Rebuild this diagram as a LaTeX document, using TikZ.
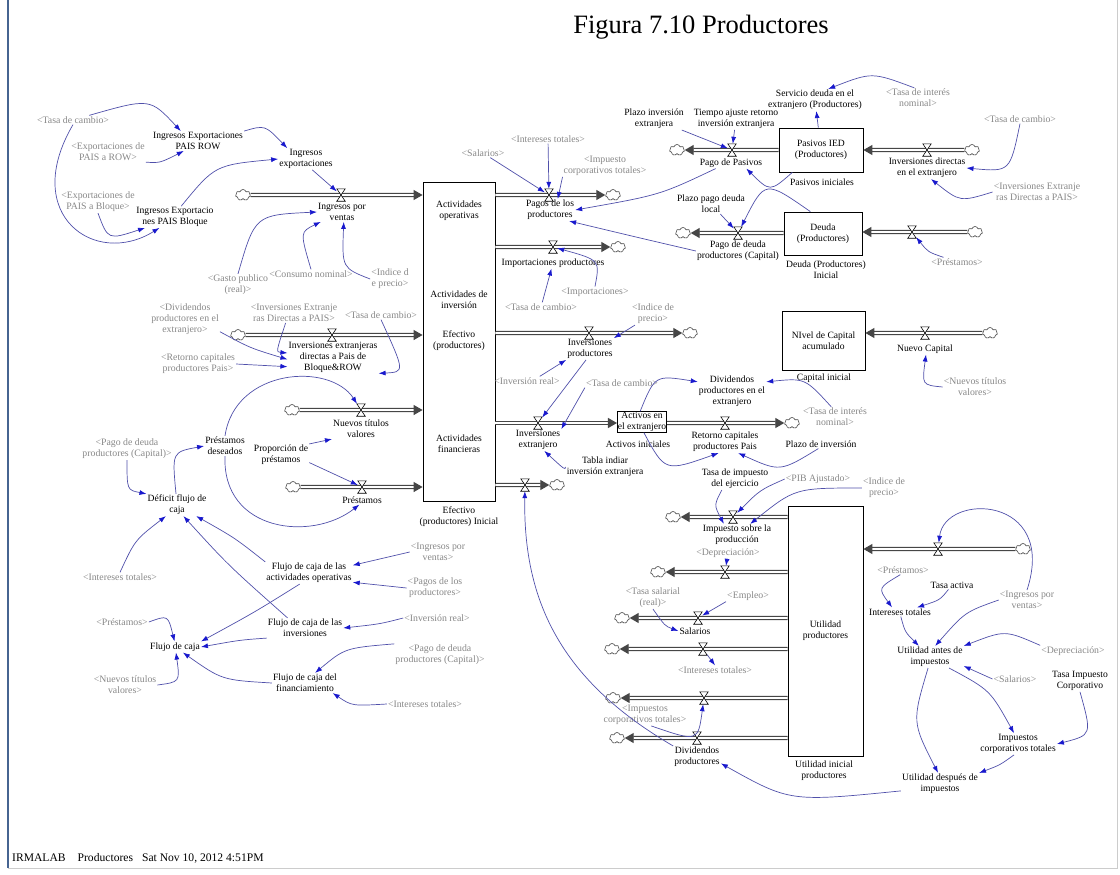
\documentclass[tikz,border=0pt]{standalone}
\usepackage{fontspec}
\setmainfont{Liberation Serif}
\usetikzlibrary{arrows.meta, calc, shapes.symbols}

\definecolor{infoblue}{RGB}{80,80,170}
\definecolor{tipblue}{RGB}{25,25,205}
\definecolor{shadowgray}{RGB}{135,135,135}
\definecolor{framebar}{RGB}{70,100,145}
\definecolor{pipegray}{RGB}{70,70,70}

\tikzset{
  varname/.style={align=center, inner sep=1pt, font=\fontsize{9.6}{11}\selectfont},
  shadowvar/.style={varname, text=shadowgray, font=\fontsize{9.8}{11}\selectfont},
  stockbox/.style={draw, line width=0.8pt, fill=white, align=center, inner sep=1pt, font=\fontsize{9.6}{11}\selectfont},
  valvenode/.style={inner sep=0pt, minimum width=8pt, minimum height=12pt},
  valveline/.style={draw=black, fill=white, line width=0.6pt},
  cloudnode/.style={cloud, cloud puffs=7, aspect=1.3, minimum width=15pt, minimum height=11pt, inner sep=0pt, draw=pipegray, fill=white, line width=0.6pt},
  pipeline/.style={draw=pipegray, double=white, double distance=1.8pt, line width=1.2pt, -{Triangle[length=9pt,width=10pt]}},
  infoarrow/.style={draw=infoblue, line width=0.7pt, -{Latex[length=7pt,width=5pt,color=tipblue]}}
}

\begin{document}
\begin{tikzpicture}[x=1pt, y=-1pt]
    \useasboundingbox (0,0) rectangle (1120,875);

    % Frame and title
    \draw[framebar, line width=2pt] (8,0) -- (8,868);
    \draw[gray!40, line width=0.8pt] (8,868) -- (1117,868) -- (1117,0);
    \node[font=\fontsize{26.5}{30}\selectfont] (title) at (701,27) {Figura 7.10 Productores};
    \node[anchor=west, inner sep=0pt, font=\fontsize{11.6}{13}\selectfont] (footer) at (12,858) {IRMALAB\hspace{12pt}Productores\hspace{9pt}Sat Nov 10, 2012 4:51PM};

    % Export revenue
    \node[shadowvar] (gTasaA) at (73,120) {<Tasa de cambio>};
    \node[varname] (ingRow) at (198,141) {Ingresos Exportaciones\\PAIS ROW};
    \node[shadowvar] (gExpRow) at (108,152) {<Exportaciones de\\PAIS a ROW>};
    \node[shadowvar] (gExpBlo) at (98,202) {<Exportaciones de\\PAIS a Bloque>};
    \node[varname] (ingBlo) at (175,217) {Ingresos Exportacio\\nes PAIS Bloque};
    \node[varname] (ingExp) at (306,159) {Ingresos\\exportaciones};
    \node[varname] (ingVen) at (342,212) {Ingresos por\\ventas};
    \node[shadowvar] (gGasto) at (238,285) {<Gasto publico\\(real)>};
    \node[shadowvar] (gConsumo) at (311,274) {<Consumo nominal>};
    \node[shadowvar] (gIndiceA) at (390,279) {<Indice d\\e precio>};

    % Cash stock
    \node[stockbox, minimum width=72pt, minimum height=319pt] (cash) at (459,341.5) {};
    \node[varname] (cashOp) at (459,211) {Actividades\\operativas};
    \node[varname] (cashInv) at (459,300) {Actividades de\\inversión};
    \node[varname] (cashName) at (459,341) {Efectivo\\(productores)};
    \node[varname] (cashFin) at (459,444) {Actividades\\financieras};
    \node[varname] (cashIni) at (459,517) {Efectivo\\(productores) Inicial};

    % Inflows to cash
    \node[cloudnode] (cIngVen) at (243,195) {};
    \node[valvenode] (vIngVen) at (341,195) {};
    \node[cloudnode] (cInvExt) at (238,335) {};
    \node[valvenode] (vInvExt) at (332,335) {};
    \node[varname] (invExt) at (333,357) {Inversiones extranjeras\\directas a Pais de\\Bloque\&ROW};
    \node[cloudnode] (cNuevos) at (292,410) {};
    \node[valvenode] (vNuevos) at (361,410) {};
    \node[varname] (nuevos) at (361,429) {Nuevos títulos\\valores};
    \node[cloudnode] (cPrest) at (293,487) {};
    \node[valvenode] (vPrest) at (362,487) {};
    \node[varname] (prest) at (362,500) {Préstamos};

    % Outflows from cash
    \node[valvenode] (vPagos) at (549,195) {};
    \node[cloudnode] (cPagos) at (613,195) {};
    \node[varname] (pagos) at (550,210) {Pagos de los\\productores};
    \node[valvenode] (vImport) at (553,247) {};
    \node[cloudnode] (cImport) at (618,247) {};
    \node[varname] (import) at (553,263) {Importaciones productores};
    \node[valvenode] (vInvProd) at (589,333) {};
    \node[cloudnode] (cInvProd) at (690,333) {};
    \node[varname] (invProd) at (590,349) {Inversiones\\productores};
    \node[valvenode] (vInvExtr) at (538,423) {};
    \node[varname] (invExtr) at (538,440) {Inversiones\\extranjero};
    \node[valvenode] (vDivP) at (525,485) {};
    \node[cloudnode] (cDivP) at (557,485) {};
    \node[shadowvar] (gSal) at (483,153) {<Salarios>};
    \node[shadowvar] (gIntTot) at (548,139) {<Intereses totales>};
    \node[shadowvar] (gImpCorp) at (605,166) {<Impuesto\\corporativos totales>};
    \node[shadowvar] (gTasaC) at (541,307) {<Tasa de cambio>};
    \node[shadowvar] (gImport) at (595,292) {<Importaciones>};

    % Foreign liabilities
    \node[varname] (plazoInv) at (654,119) {Plazo inversión\\extranjera};
    \node[varname] (tiempoAj) at (736,119) {Tiempo ajuste retorno\\inversión extranjera};
    \node[stockbox, minimum width=84pt, minimum height=44pt] (pasivos) at (821,150) {Pasivos IED\\(Productores)};
    \node[varname] (pasIni) at (822,182) {Pasivos iniciales};
    \node[varname] (servicio) at (815,100) {Servicio deuda en el\\extranjero (Productores)};
    \node[shadowvar] (gTasaInt1) at (918,98) {<Tasa de interés\\nominal>};
    \node[cloudnode] (cPagoPas) at (677,150) {};
    \node[valvenode] (vPagoPas) at (732,150) {};
    \node[varname] (pagoPas) at (731,163) {Pago de Pasivos};
    \node[cloudnode] (cInvDir) at (972,150) {};
    \node[valvenode] (vInvDir) at (927,150) {};
    \node[varname] (invDir) at (927,168) {Inversiones directas\\en el extranjero};
    \node[shadowvar] (gTasaB) at (1020,119) {<Tasa de cambio>};
    \node[shadowvar] (gInvExtB) at (1037,192) {<Inversiones Extranje\\ras Directas a PAIS>};

    % Local debt
    \node[varname] (plazoDeu) at (711,204) {Plazo pago deuda\\local};
    \node[stockbox, minimum width=78pt, minimum height=43pt] (deuda) at (823,233.5) {Deuda\\(Productores)};
    \node[varname] (deuIni) at (826,270) {Deuda (Productores)\\Inicial};
    \node[cloudnode] (cPagoDeu) at (683,233) {};
    \node[valvenode] (vPagoDeu) at (738,233) {};
    \node[varname] (pagoDeu) at (738,251) {Pago de deuda\\productores (Capital)};
    \node[cloudnode] (cPrestB) at (975,232) {};
    \node[valvenode] (vPrestB) at (912,232) {};
    \node[shadowvar] (gPrestB) at (957,262) {<Préstamos>};

    % Accumulated capital
    \node[stockbox, minimum width=83pt, minimum height=59pt] (capital) at (823.5,340.5) {NIvel de Capital\\acumulado};
    \node[varname] (capIni) at (824,378) {Capital inicial};
    \node[cloudnode] (cNuevoCap) at (990,333) {};
    \node[valvenode] (vNuevoCap) at (925,333) {};
    \node[varname] (nuevoCap) at (925,349) {Nuevo Capital};
    \node[shadowvar] (gNuevosB) at (975,387) {<Nuevos títulos\\valores>};

    % Foreign assets
    \node[shadowvar] (gIndiceB) at (653,314) {<Indice de\\precio>};
    \node[shadowvar] (gInvReal) at (527,381) {<Inversión real>};
    \node[shadowvar] (gTasaD) at (622,383) {<Tasa de cambio>};
    \node[varname] (tabla) at (605,467) {Tabla indiar\\inversión extranjera};
    \node[stockbox, inner sep=0.5pt] (actBox) at (642,422) {Activos en\\el extranjero};
    \node[varname] (actIni) at (638,444) {Activos iniciales};
    \node[valvenode] (vRet) at (725,423) {};
    \node[cloudnode] (cRet) at (792,423) {};
    \node[varname] (retorno) at (725,442) {Retorno capitales\\productores Pais};
    \node[varname] (divExt) at (732,391) {Dividendos\\productores en el\\extranjero};
    \node[shadowvar] (gTasaInt2) at (835,417) {<Tasa de interés\\nominal>};
    \node[varname] (plazoRet) at (821,444) {Plazo de inversión};

    % Profit stock and its outflows
    \node[stockbox, minimum width=75pt, minimum height=250pt] (util) at (825.5,631) {Utilidad\\productores};
    \node[varname] (utilIni) at (824,771) {Utilidad inicial\\productores};
    \node[varname] (tasaImp) at (735,479) {Tasa de impuesto\\del ejercicio};
    \node[shadowvar] (gPib) at (818,479) {<PIB Ajustado>};
    \node[shadowvar] (gIndiceC) at (884,488) {<Indice de\\precio>};
    \node[cloudnode] (cImpProd) at (673,517) {};
    \node[valvenode] (vImpProd) at (733,517) {};
    \node[varname] (impProd) at (737,535) {Impuesto sobre la\\producción};
    \node[shadowvar] (gDep) at (728,553) {<Depreciación>};
    \node[cloudnode] (cDep) at (658,572) {};
    \node[valvenode] (vDep) at (725,572) {};
    \node[cloudnode] (cSal) at (622,618) {};
    \node[valvenode] (vSal) at (698,618) {};
    \node[varname] (sal) at (695,631) {Salarios};
    \node[shadowvar] (gTasaSal) at (653,598) {<Tasa salarial\\(real)>};
    \node[shadowvar] (gEmpleo) at (748,596) {<Empleo>};
    \node[cloudnode] (cIntT) at (612,649) {};
    \node[valvenode] (vIntT) at (703,649) {};
    \node[shadowvar] (gIntTotB) at (715,670) {<Intereses totales>};
    \node[cloudnode] (cImpC) at (613,698) {};
    \node[valvenode] (vImpC) at (704,698) {};
    \node[shadowvar] (gImpCorpB) at (645,715) {<Impuestos\\corporativos totales>};
    \node[cloudnode] (cDivPB) at (617,738) {};
    \node[valvenode] (vDivPB) at (697,738) {};
    \node[varname] (divP) at (697,757) {Dividendos\\productores};

    % Profit before and after taxes
    \node[cloudnode] (cIngB) at (1023,549) {};
    \node[valvenode] (vIngB) at (938,549) {};
    \node[shadowvar] (gPrestC) at (903,570) {<Préstamos>};
    \node[varname] (tasaAct) at (952,585) {Tasa activa};
    \node[shadowvar] (gIngVenB) at (1027,600) {<Ingresos por\\ventas>};
    \node[varname] (intTot) at (900,612) {Intereses totales};
    \node[varname] (utilAntes) at (930,657) {Utilidad antes de\\impuestos};
    \node[shadowvar] (gDepB) at (1073,651) {<Depreciación>};
    \node[shadowvar] (gSalB) at (1015,679) {<Salarios>};
    \node[varname] (tasaImpCorp) at (1080,681) {Tasa Impuesto\\Corporativo};
    \node[varname] (impCorpTot) at (1018,744) {Impuestos\\corporativos totales};
    \node[varname] (utilDesp) at (940,784) {Utilidad después de\\impuestos};

    % Financing side
    \node[shadowvar] (gDivExtB) at (185,319) {<Dividendos\\productores en el\\extranjero>};
    \node[shadowvar] (gInvExtC) at (294,313) {<Inversiones Extranje\\ras Directas a PAIS>};
    \node[shadowvar] (gTasaE) at (381,315) {<Tasa de cambio>};
    \node[shadowvar] (gRetCap) at (198,364) {<Retorno capitales\\productores Pais>};
    \node[varname] (prestDes) at (225,446) {Préstamos\\deseados};
    \node[varname] (propPrest) at (281,455) {Proporción de\\préstamos};
    \node[varname] (deficit) at (177,505) {Déficit flujo de\\caja};
    \node[shadowvar] (gPagoDeuB) at (127,449) {<Pago de deuda\\productores (Capital)>};
    \node[shadowvar] (gIntTotC) at (120,577) {<Intereses totales>};

    % Cash flow statement
    \node[varname] (flujoOp) at (309,573) {Flujo de caja de las\\actividades operativas};
    \node[shadowvar] (gIngVenC) at (438,552) {<Ingresos por\\ventas>};
    \node[shadowvar] (gPagosB) at (435,588) {<Pagos de los\\productores>};
    \node[varname] (flujoInv) at (305,628) {Flujo de caja de las\\inversiones};
    \node[shadowvar] (gInvRealB) at (437,618) {<Inversión real>};
    \node[varname] (flujoFin) at (305,683) {Flujo de caja del\\financiamiento};
    \node[shadowvar] (gPagoDeuC) at (440,655) {<Pago de deuda\\productores (Capital)>};
    \node[shadowvar] (gIntTotD) at (425,704) {<Intereses totales>};
    \node[varname] (flujo) at (175,647) {Flujo de caja};
    \node[shadowvar] (gPrestD) at (122,622) {<Préstamos>};
    \node[shadowvar] (gNuevosC) at (125,685) {<Nuevos títulos\\valores>};

    % Pipes
    \draw[pipeline] (cIngVen) -- (cIngVen -| cash.west);
    \draw[pipeline] (cInvExt) -- (cInvExt -| cash.west);
    \draw[pipeline] (cNuevos) -- (cNuevos -| cash.west);
    \draw[pipeline] (cPrest) -- (cPrest -| cash.west);
    \draw[pipeline] (cash.east |- vPagos) -- (cPagos);
    \draw[pipeline] (cash.east |- vImport) -- (cImport);
    \draw[pipeline] (cash.east |- vInvProd) -- (cInvProd);
    \draw[pipeline] (cash.east |- vInvExtr) -- (actBox.west |- vInvExtr);
    \draw[pipeline] (cash.east |- vDivP) -- (cDivP);
    \draw[pipeline] (pasivos.west |- vPagoPas) -- (cPagoPas);
    \draw[pipeline] (cInvDir) -- (cInvDir -| pasivos.east);
    \draw[pipeline] (deuda.west |- vPagoDeu) -- (cPagoDeu);
    \draw[pipeline] (cPrestB) -- (cPrestB -| deuda.east);
    \draw[pipeline] (cNuevoCap) -- (cNuevoCap -| capital.east);
    \draw[pipeline] (actBox.east |- vRet) -- (cRet);
    \draw[pipeline] (util.west |- vImpProd) -- (cImpProd);
    \draw[pipeline] (util.west |- vDep) -- (cDep);
    \draw[pipeline] (util.west |- vSal) -- (cSal);
    \draw[pipeline] (util.west |- vIntT) -- (cIntT);
    \draw[pipeline] (util.west |- vImpC) -- (cImpC);
    \draw[pipeline] (util.west |- vDivPB) -- (cDivPB);
    \draw[pipeline] (cIngB) -- (cIngB -| util.east);

    % Valves
    \foreach \v in {vIngVen, vInvExt, vNuevos, vPrest, vPagos, vImport, vInvProd, vInvExtr, vDivP, vPagoPas, vInvDir,
                    vPagoDeu, vPrestB, vNuevoCap, vRet, vImpProd, vDep, vSal, vIntT, vImpC, vDivPB, vIngB}
        \draw[valveline] (\v.north west) -- (\v.north east) -- (\v.south west) -- (\v.south east) -- cycle;

    % Export revenue links
    \draw[infoarrow] (gTasaA) .. controls (150,98) .. (ingRow.150);
    \draw[infoarrow] (gTasaA.south) .. controls (20,215) and (95,268) .. (ingBlo.215);
    \draw[infoarrow] (gExpRow.south east) .. controls (160,163) .. (ingRow.215);
    \draw[infoarrow] (gExpBlo.south) .. controls (108,240) .. (ingBlo.200);
    \draw[infoarrow] (ingRow.north east) .. controls (265,125) .. (ingExp.150);
    \draw[infoarrow] (ingBlo.60) .. controls (215,165) .. (ingExp.west);
    \draw[infoarrow] (ingExp.-60) -- (vIngVen);
    \draw[infoarrow] (gGasto.north) .. controls (255,215) .. (ingVen.west);
    \draw[infoarrow] (gConsumo.north) .. controls (300,232) .. (ingVen.205);
    \draw[infoarrow] (gIndiceA.west) .. controls (342,268) .. (ingVen.-80);

    % Payments links
    \draw[infoarrow] (gSal) -- (vPagos);
    \draw[infoarrow] (gIntTot) -- (vPagos);
    \draw[infoarrow] (gImpCorp.south west) -- (pagos.55);
    \draw[infoarrow] (pagoPas.200) .. controls (660,195) .. (pagos.east);
    \draw[infoarrow] (pagoDeu.west) .. controls (640,238) .. (pagos.-30);
    \draw[infoarrow] (gTasaC) -- (import);
    \draw[infoarrow] (gImport.north) .. controls (600,260) .. (vImport);

    % Liabilities and debt links
    \draw[infoarrow] (gTasaInt1.110) .. controls (872,72) .. (servicio.40);
    \draw[infoarrow] (pasivos) -- (servicio);
    \draw[infoarrow] (plazoInv) -- (vPagoPas);
    \draw[infoarrow] (tiempoAj) -- (vPagoPas);
    \draw[infoarrow] (pasivos.218) .. controls (770,192) .. (pagoPas.-20);
    \draw[infoarrow] (gTasaB.south) .. controls (1010,172) .. (invDir.east);
    \draw[infoarrow] (gInvExtB.west) .. controls (960,202) .. (invDir.-70);
    \draw[infoarrow] (plazoDeu) -- (vPagoDeu);
    \draw[infoarrow] (deuda.120) .. controls (765,180) .. (vPagoDeu);
    \draw[infoarrow] (gPrestB) .. controls (928,252) .. (vPrestB);
    \draw[infoarrow] (gNuevosB.west) .. controls (922,385) .. (nuevoCap.-80);

    % Investment links
    \draw[infoarrow] (gIndiceB) -- (invProd.north east);
    \draw[infoarrow] (gInvReal.20) -- (invProd.south west);
    \draw[infoarrow] (invProd.250) -- (vInvExtr);
    \draw[infoarrow] (gTasaD.south west) -- (invExtr.north east);
    \draw[infoarrow] (tabla.west) .. controls (565,470) .. (invExtr.-60);
    \draw[infoarrow] (actBox.100) .. controls (655,375) .. (divExt.165);
    \draw[infoarrow] (actBox.-80) .. controls (665,472) .. (retorno.240);
    \draw[infoarrow] (gTasaInt2.110) .. controls (805,378) .. (divExt.15);
    \draw[infoarrow] (plazoRet.-120) .. controls (780,472) .. (retorno.-40);

    % Profit outflow links
    \draw[infoarrow] (tasaImp.220) .. controls (714,505) .. (impProd.140);
    \draw[infoarrow] (gPib.west) .. controls (760,490) .. (vImpProd);
    \draw[infoarrow] (gIndiceC.west) .. controls (795,488) .. (impProd.40);
    \draw[infoarrow] (gDep) -- (vDep);
    \draw[infoarrow] (gTasaSal.south) .. controls (665,626) .. (sal.west);
    \draw[infoarrow] (gEmpleo.south west) -- (vSal);
    \draw[infoarrow] (vIntT) -- (gIntTotB.north);
    \draw[infoarrow] (gImpCorpB.-60) .. controls (698,742) .. (vImpC);
    \draw[infoarrow] (divP.north west) .. controls (560,680) and (523,600) .. (vDivP);
    \draw[infoarrow] (utilDesp.190) .. controls (790,802) .. (divP.-15);

    % Profit links
    \draw[infoarrow] (gIngVenB.north) .. controls (1058,495) and (945,492) .. (vIngB);
    \draw[infoarrow] (gIngVenB.west) .. controls (965,612) .. (utilAntes.65);
    \draw[infoarrow] (gPrestC.-120) .. controls (878,588) .. (intTot.150);
    \draw[infoarrow] (tasaAct) .. controls (940,600) .. (intTot.15);
    \draw[infoarrow] (intTot.-80) .. controls (905,632) .. (utilAntes.135);
    \draw[infoarrow] (gDepB.north west) .. controls (1005,630) .. (utilAntes.north east);
    \draw[infoarrow] (gSalB.west) -- (utilAntes.-15);
    \draw[infoarrow] (utilAntes.-30) .. controls (990,690) .. (impCorpTot.110);
    \draw[infoarrow] (tasaImpCorp.south) .. controls (1092,735) .. (impCorpTot.east);
    \draw[infoarrow] (impCorpTot.-110) .. controls (1000,765) .. (utilDesp.north east);
    \draw[infoarrow] (utilAntes.-100) .. controls (912,722) .. (utilDesp.100);

    % Financing links
    \draw[infoarrow] (gDivExtB.-20) .. controls (250,348) .. (invExt.183);
    \draw[infoarrow] (gInvExtC.230) .. controls (276,352) .. (invExt.175);
    \draw[infoarrow] (gRetCap.east) -- (invExt.192);
    \draw[infoarrow] (gTasaE.south) .. controls (405,372) .. (invExt.south east);
    \draw[infoarrow] (prestDes.north) .. controls (235,368) and (330,362) .. (vNuevos);
    \draw[infoarrow] (prestDes.south) .. controls (222,532) and (312,542) .. (prest.-120);
    \draw[infoarrow] (propPrest.north east) -- (nuevos.south west);
    \draw[infoarrow] (propPrest.-15) -- (vPrest);
    \draw[infoarrow] (gPagoDeuB.south) .. controls (127,490) .. (deficit.north west);
    \draw[infoarrow] (deficit.95) .. controls (172,452) .. (prestDes.west);
    \draw[infoarrow] (gIntTotC.north) .. controls (135,540) .. (deficit.-135);
    \draw[infoarrow] (flujoOp.north west) .. controls (235,538) .. (deficit.-30);
    \draw[infoarrow] (flujoInv.150) .. controls (228,565) .. (deficit.-60);

    % Cash flow links
    \draw[infoarrow] (gIngVenC.west) -- (flujoOp.10);
    \draw[infoarrow] (gPagosB.west) -- (flujoOp.-12);
    \draw[infoarrow] (flujoOp.-130) .. controls (255,612) .. (flujo.north east);
    \draw[infoarrow] (gInvRealB.west) .. controls (380,624) .. (flujoInv.east);
    \draw[infoarrow] (gPagoDeuC.north west) .. controls (345,648) .. (flujoFin.45);
    \draw[infoarrow] (gIntTotD.west) .. controls (352,706) .. (flujoFin.-20);
    \draw[infoarrow] (gPrestD.east) .. controls (168,615) .. (flujo.95);
    \draw[infoarrow] (gNuevosC.east) .. controls (180,682) .. (flujo.-80);
    \draw[infoarrow] (flujoInv.south west) .. controls (240,640) .. (flujo.east);
    \draw[infoarrow] (flujoFin.west) .. controls (222,680) .. (flujo.-35);
\end{tikzpicture}
\end{document}
